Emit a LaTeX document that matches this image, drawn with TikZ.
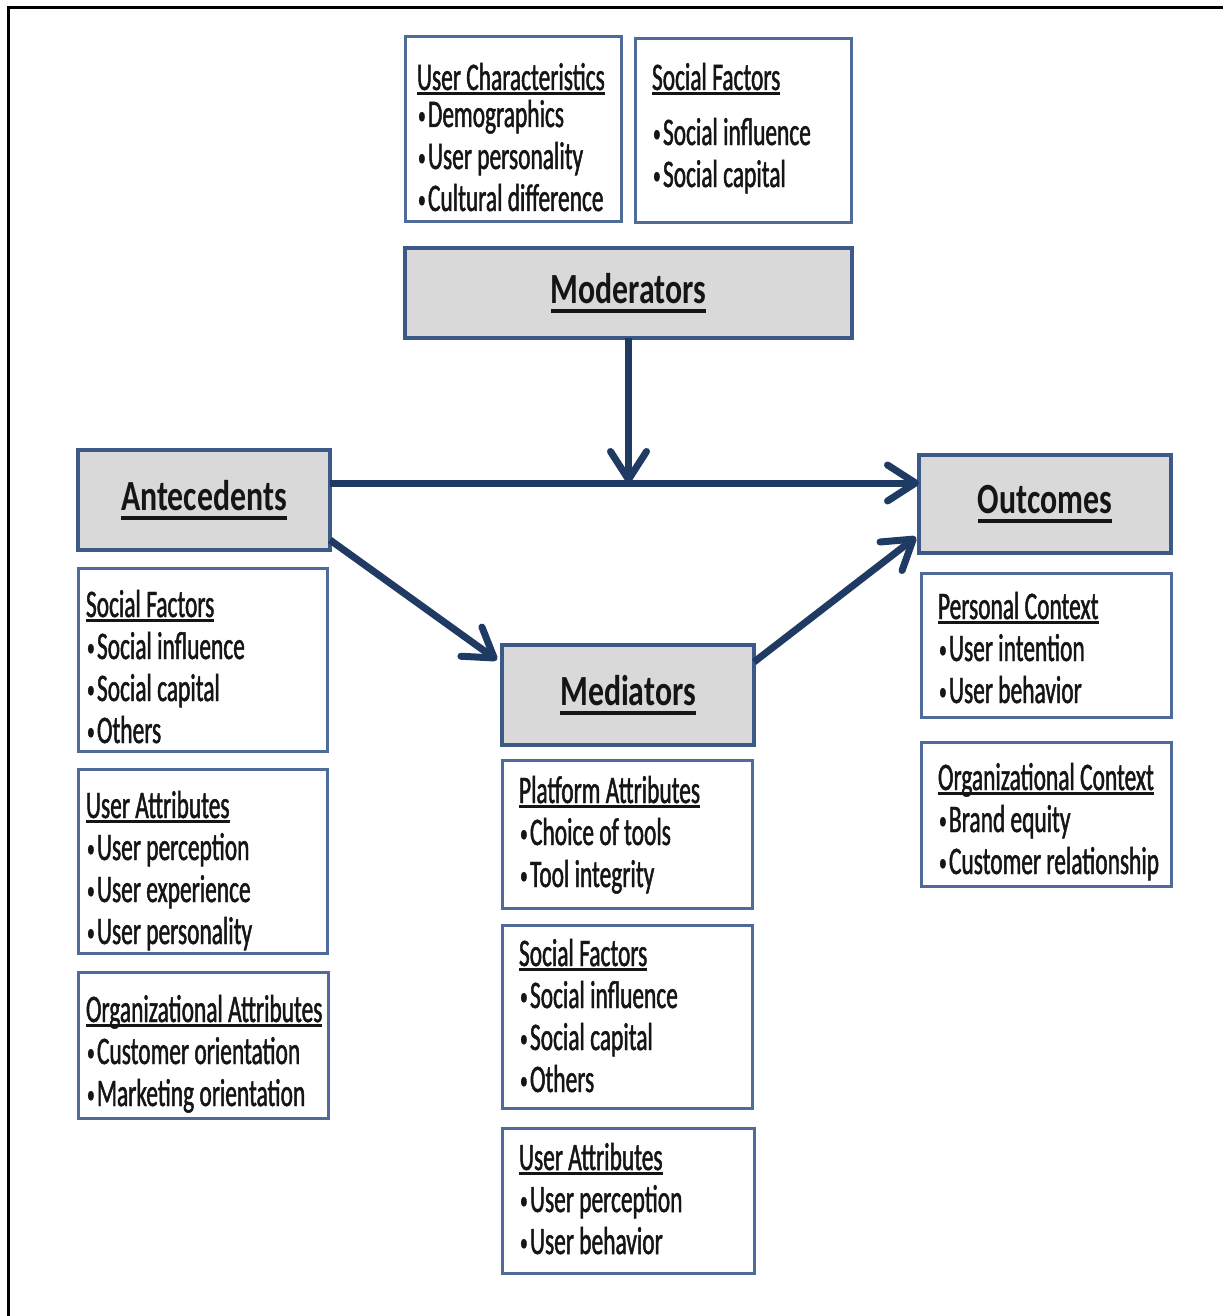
\documentclass[tikz,border=0pt]{standalone}
\usepackage{fontspec}
\usetikzlibrary{arrows.meta,calc}
\setmainfont{Carlito}
\newfontfamily\bodyfont{Carlito}[FakeStretch=0.6, FakeBold=1.2]
\newfontfamily\titlefont{Carlito}[FakeStretch=0.74]
\definecolor{framecol}{HTML}{3C5A88}
\definecolor{infocol}{HTML}{4E6B9A}
\definecolor{titlefill}{HTML}{D9D9D9}
\definecolor{arrowcol}{HTML}{1F3A63}
\definecolor{inkcol}{HTML}{151515}
\newsavebox\ulbox
% underlined heading inside an info box
\newcommand\hd[1]{\sbox\ulbox{#1}\rlap{\rule[-5pt]{\wd\ulbox}{3pt}}\usebox\ulbox}
% underlined title of a main box
\newcommand\ttl[1]{\sbox\ulbox{#1}\rlap{\rule[-9pt]{\wd\ulbox}{4pt}}\usebox\ulbox}
% small list bullet followed by a narrow gap
\newcommand\bul{\makebox[11pt][l]{\hspace{1pt}\raisebox{3pt}{\fontsize{26}{26}\selectfont\textbullet}}}
\tikzset{
  ibox/.style={draw=infocol, line width=3pt, fill=white, inner sep=0pt, outer sep=0pt},
  tbox/.style={draw=framecol, line width=4pt, fill=titlefill, inner sep=0pt, outer sep=0pt,
    font=\titlefont\bfseries\fontsize{43}{46}\selectfont, text=inkcol},
  txt/.style={inner sep=0pt, outer sep=0pt, align=left, anchor=base west, text=inkcol,
    font=\bodyfont\fontsize{39}{42}\selectfont},
  arr/.style={draw=arrowcol, line width=7pt,
    -{Straight Barb[length=28pt, width=36pt, round]}},
}
% box from its corners: style, x1, y1, x2, y2, name, text
\newcommand\boxat[7]{\node[#1, minimum width={#4-#2}, minimum height={#5-#3}] (#6)
  at ({(#2+#4)/2},{(#3+#5)/2}) {#7};}
\begin{document}
\begin{tikzpicture}[x=1pt, y=-1pt]
\useasboundingbox (0,0) rectangle (1223,1316);
\fill[white] (0,0) rectangle (1223,1316);
% outer frame
\draw[black, line width=3pt] (8,1316) -- (8,8) -- (1223,8);

% moderators (text nodes sit on the baseline of their last line)
\boxat{ibox}{405}{37}{621}{221}{uc}{}
\boxat{ibox}{635}{39}{851}{222}{msf}{}
\boxat{tbox}{405}{248}{852}{338}{mod}{\ttl{Moderators}}
\node[txt] (ucT) at (417,211) {\hd{User Characteristics}\\[-5pt]
  \bul Demographics\\ \bul User personality\\ \bul Cultural difference};
\node[txt] (msfT) at (652,187) {\hd{Social Factors}\\[13pt]
  \bul Social influence\\ \bul Social capital};

% antecedents
\boxat{tbox}{78}{450}{330}{550}{ante}{\ttl{Antecedents}}
\boxat{ibox}{78}{568}{327}{751}{asf}{}
\boxat{ibox}{78}{769}{327}{953}{aua}{}
\boxat{ibox}{78}{972}{328}{1118}{aoa}{}
\node[txt] (asfT) at (86,743) {\hd{Social Factors}\\
  \bul Social influence\\ \bul Social capital\\ \bul Others};
\node[txt] (auaT) at (86,944) {\hd{User Attributes}\\
  \bul User perception\\ \bul User experience\\ \bul User personality};
\node[txt] (aoaT) at (86,1106) {\hd{Organizational Attributes}\\
  \bul Customer orientation\\ \bul Marketing orientation};

% mediators
\boxat{tbox}{502}{645}{754}{745}{med}{\ttl{Mediators}}
\boxat{ibox}{502}{760}{752}{908}{pa}{}
\boxat{ibox}{502}{925}{752}{1108}{dsf}{}
\boxat{ibox}{502}{1128}{754}{1273}{dua}{}
\node[txt] (paT) at (519,887) {\hd{Platform Attributes}\\
  \bul Choice of tools\\ \bul Tool integrity};
\node[txt] (dsfT) at (519,1092) {\hd{Social Factors}\\
  \bul Social influence\\ \bul Social capital\\ \bul Others};
\node[txt] (duaT) at (519,1254) {\hd{User Attributes}\\
  \bul User perception\\ \bul User behavior};

% outcomes
\boxat{tbox}{919}{455}{1171}{553}{out}{\ttl{Outcomes}}
\boxat{ibox}{921}{573}{1171}{717}{pc}{}
\boxat{ibox}{921}{742}{1171}{886}{oc}{}
\node[txt] (pcT) at (938,703) {\hd{Personal Context}\\
  \bul User intention\\ \bul User behavior};
\node[txt] (ocT) at (938,874) {\hd{Organizational Context}\\
  \bul Brand equity\\ \bul Customer relationship};

% connectors
\coordinate (hj) at (628,483);
\draw[arr] (ante.east |- hj) -- (out.west |- hj);
\draw[arr] (mod.south) -- (mod.south |- hj);
\draw[arr] ($(ante.south east)+(0,-10)$) -- ($(med.north west)+(-5,15)$);
\draw[arr] ($(med.north east)+(0,17)$) -- ($(out.south west)+(-3,-16)$);
\end{tikzpicture}
\end{document}
